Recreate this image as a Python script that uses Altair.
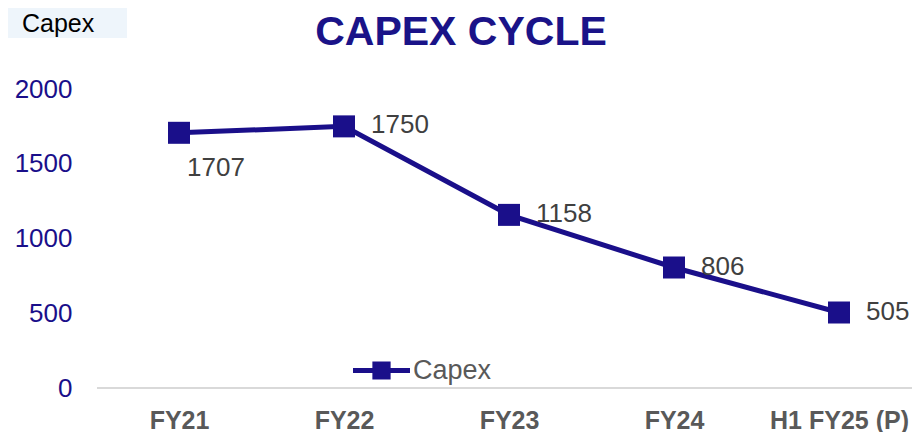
import altair as alt
import pandas as pd

categories = ["FY21", "FY22", "FY23", "FY24", "H1 FY25 (P)"]
capex = [1707, 1750, 1158, 806, 505]
series_name = ["Capex"] * 5
label_side = ["below", "right", "right", "right", "right"]

df = pd.DataFrame({"period": categories, "capex": capex, "series": series_name, "side": label_side})

NAVY = "#1a0f8a"
FONT = "Liberation Sans"

x_enc = alt.X("period:O", sort=categories,
              scale=alt.Scale(type="point", range=[82, 742], padding=0),
              axis=alt.Axis(title=None, domain=False, ticks=False, labelAngle=0,
                            labelFont=FONT, labelFontSize=25, labelFontWeight="bold",
                            labelColor="#595959", labelPadding=20))
y_enc = alt.Y("capex:Q", scale=alt.Scale(domain=[0, 2000], nice=False),
              axis=alt.Axis(title=None, domain=False, ticks=False, grid=False, format="d",
                            values=[0, 500, 1000, 1500, 2000],
                            labelFont=FONT, labelFontSize=26, labelColor=NAVY,
                            labelPadding=25))

base = alt.Chart(df)

baseline = base.mark_rule(color="#d9d9d9", strokeWidth=2).encode(y=alt.datum(0))

line = base.mark_line(color=NAVY, strokeWidth=5).encode(x=x_enc, y=y_enc)

pts = base.mark_point(shape="square", filled=True, size=484, opacity=1).encode(
    x=x_enc, y=y_enc,
    color=alt.Color("series:N", scale=alt.Scale(range=[NAVY]),
                    legend=alt.Legend(title=None, orient="none", legendX=256, legendY=253,
                                      symbolType="M-1,-0.09H1V0.09H-1Z M-0.32,-0.32H0.32V0.32H-0.32Z",
                                      symbolSize=3249, symbolStrokeWidth=0,
                                      labelFont=FONT, labelFontSize=27, labelColor="#595959",
                                      labelOffset=3)))

lab_right = base.transform_filter(alt.datum.side == "right").mark_text(
    align="left", baseline="middle", dx=27, dy=-1, font=FONT, fontSize=26, color="#404040"
).encode(x=x_enc, y=y_enc, text="capex:Q")

lab_below = base.transform_filter(alt.datum.side == "below").mark_text(
    align="left", baseline="middle", dx=8, dy=35, font=FONT, fontSize=26, color="#404040"
).encode(x=x_enc, y=y_enc, text="capex:Q")

meta = pd.DataFrame({"corner": ["Capex"], "title": ["CAPEX CYCLE"]})

corner_box = alt.Chart(meta).mark_rect(color="#eef5fb").encode(
    x=alt.value(-97), x2=alt.value(30), y=alt.value(-89), y2=alt.value(-51))
corner_text = alt.Chart(meta).mark_text(
    align="left", baseline="alphabetic", font=FONT, fontSize=25, color="#000000"
).encode(x=alt.value(-75), y=alt.value(-57), text="corner:N")
title_text = alt.Chart(meta).mark_text(
    align="center", baseline="alphabetic", font=FONT, fontSize=41, fontWeight="bold",
    color="#1a1388"
).encode(x=alt.value(364), y=alt.value(-44), text="title:N")

chart = alt.layer(corner_box, corner_text, title_text, baseline, line, pts, lab_right, lab_below).properties(
    width=815, height=299,
    autosize="none",
    padding={"left": 89, "top": 81, "right": 0, "bottom": 44},
).configure_view(stroke=None)

chart.save("out.html", embed_options={"renderer": "svg", "actions": False})
